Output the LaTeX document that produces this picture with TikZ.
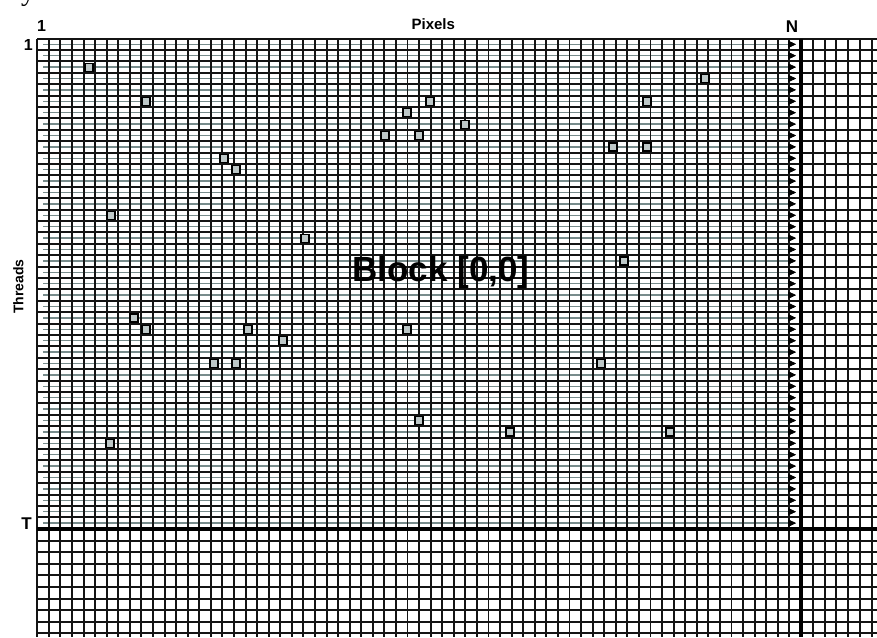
\documentclass[tikz,border=0pt]{standalone}
\usepackage{fontspec}
\setmainfont{Liberation Sans}
\newfontfamily\capserif{Liberation Serif}
\usetikzlibrary{arrows.meta}
\definecolor{threadgray}{RGB}{120,140,140}
\definecolor{markfill}{RGB}{190,200,200}
\begin{document}
\begin{tikzpicture}[x=1pt,y=-1pt,
  gridline/.style={black!92, line width=1.9pt},
  thickline/.style={black, line width=3.4pt},
  threadline/.style={threadgray, line width=1.4pt, -{Triangle[length=8pt,width=7pt,color=black]}},
  marker/.style={draw=black, fill=markfill, line width=1.2pt, minimum size=8pt, inner sep=0pt, shape=rectangle},
  lab/.style={inner sep=0pt, anchor=base}]
\useasboundingbox (0,0) rectangle (877,637);
\fill[white] (0,0) rectangle (877,637);
% thread lines with arrows
\foreach \r in {0,...,42}
  \draw[threadline] (43.3,44.3+11.4*\r) -- (796,44.3+11.4*\r);
% horizontal grid lines (block rows)
\foreach \j in {0,...,42}
  \draw[gridline] (37.3,38.6+11.4*\j) -- (877,38.6+11.4*\j);
% horizontal grid lines below T
\foreach \j in {1,...,9}
  \draw[gridline] (37.3,529+11.6*\j) -- (877,529+11.6*\j);
% vertical grid lines
\foreach \k in {0,...,65}
  \draw[gridline] (37.3+11.57*\k,38.6) -- (37.3+11.57*\k,637);
\foreach \k in {1,...,6}
  \draw[gridline] (801+11.78*\k,38.6) -- (801+11.78*\k,637);
% redraw arrowheads on top of grid
\foreach \r in {0,...,42}
  \draw[threadline] (786,44.3+11.4*\r) -- (796,44.3+11.4*\r);
% thick boundaries
\draw[thickline] (801,38.6) -- (801,637);
\draw[thickline] (37.3,529) -- (877,529);
% accessed pixels
\foreach \mx/\my [count=\i] in {
  89/67.1, 146/101.3, 111/215.3, 134/317.9, 146/329.3, 110/443.3,
  224/158.3, 236/169.7, 214/363.5, 236/363.5, 248/329.3, 283/340.7,
  305/238.1, 385/135.5, 407/112.7, 430/101.3, 419/135.5, 465/124.1,
  407/329.3, 419/420.5, 510/431.9, 601/363.5, 624/260.9, 613/146.9,
  647/146.9, 647/101.3, 705/78.5, 670/431.9}
  \node[marker] (m\i) at (\mx,\my) {};
% labels
\node[lab, font=\bfseries\fontsize{16}{16}\selectfont] (one1) at (41.5,31) {1};
\node[lab, font=\bfseries\fontsize{16}{16}\selectfont] (one2) at (28.3,50.7) {1};
\node[lab, font=\bfseries\fontsize{15}{15}\selectfont] (pix) at (433.3,29.3) {Pixels};
\node[lab, font=\bfseries\fontsize{17}{17}\selectfont] (nn) at (792,32.7) {N};
\node[lab, font=\bfseries\fontsize{17}{17}\selectfont] (tt) at (26.5,529.3) {T};
\node[lab, font=\bfseries\fontsize{14}{14}\selectfont, rotate=90] (thr) at (23.3,286.5) {Threads};
\node[lab, font=\bfseries\fontsize{35}{35}\selectfont] (blk) at (441,281) {Block [0,0]};
% cut caption letter at top edge
\node[inner sep=0pt, anchor=base west, font=\capserif\fontsize{28}{28}\selectfont] (ycut) at (21,1) {y};
\end{tikzpicture}
\end{document}
